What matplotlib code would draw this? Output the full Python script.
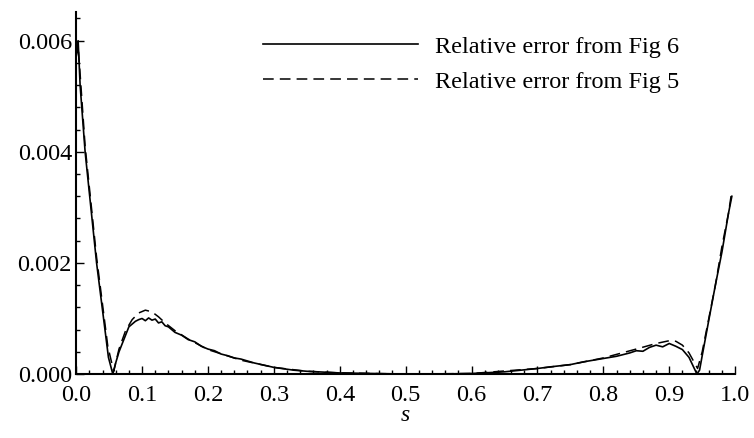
import matplotlib
matplotlib.use("Agg")
import matplotlib.pyplot as plt
from matplotlib.ticker import MultipleLocator, FormatStrFormatter

plt.rcParams["font.family"] = ["Liberation Serif", "DejaVu Serif"]

# relative error (solid = Fig 6, dashed = Fig 5)
s_fig6 = [0.0, 0.003, 0.006, 0.0136, 0.031, 0.049, 0.0556, 0.06, 0.065, 0.07,
          0.075, 0.08, 0.085, 0.09, 0.095, 0.1, 0.105, 0.11, 0.115, 0.12,
          0.125, 0.13, 0.135, 0.14, 0.15, 0.16, 0.17, 0.18, 0.19, 0.2,
          0.21, 0.22, 0.23, 0.24, 0.25, 0.27, 0.3, 0.33, 0.35, 0.4,
          0.45, 0.5, 0.55, 0.6, 0.65, 0.7, 0.72, 0.75, 0.77, 0.8,
          0.82, 0.84, 0.85, 0.86, 0.87, 0.88, 0.89, 0.9, 0.91, 0.92,
          0.93, 0.942, 0.946, 0.95, 0.96, 0.97, 0.98, 0.99, 0.995]
err_fig6 = [0.0058, 0.0060, 0.0052, 0.0040, 0.0020, 0.0003, 0.0, 0.0002, 0.0004, 0.00055,
            0.0007, 0.00085, 0.0009, 0.00095, 0.00098, 0.00100, 0.00096, 0.00101, 0.00097, 0.00099,
            0.00092, 0.00094, 0.00087, 0.00085, 0.00075, 0.00070, 0.00062, 0.00058, 0.00050, 0.00045,
            0.00042, 0.00036, 0.00033, 0.00029, 0.00027, 0.00020, 0.00012, 0.00007, 0.00005, 0.00002,
            0.00001, 0.0, 0.0, 0.00001, 0.00004, 0.0001, 0.00013, 0.00017, 0.00022, 0.00028,
            0.00032, 0.00038, 0.00042, 0.00041, 0.00048, 0.00052, 0.00049, 0.00055, 0.00050, 0.00044,
            0.00030, 0.0, 0.00007, 0.00033, 0.00097, 0.0016, 0.0022, 0.0029, 0.0032]

s_fig5 = [0.0, 0.003, 0.006, 0.0136, 0.031, 0.048, 0.057, 0.065, 0.075, 0.085,
          0.095, 0.105, 0.115, 0.125, 0.135, 0.15, 0.17, 0.2, 0.25, 0.3,
          0.35, 0.4, 0.5, 0.6, 0.7, 0.75, 0.8, 0.85, 0.88, 0.9,
          0.91, 0.92, 0.93, 0.943, 0.95, 0.96, 0.97, 0.98, 0.99, 0.995]
err_fig5 = [0.0057, 0.0059, 0.0054, 0.0041, 0.0021, 0.0005, 0.00005, 0.00045, 0.00078, 0.00098,
            0.00110, 0.00115, 0.00112, 0.00103, 0.00092, 0.00078, 0.00063, 0.00044, 0.00025, 0.00012,
            0.00005, 0.00002, 0.0, 0.00001, 0.0001, 0.00017, 0.00029, 0.00045, 0.00055, 0.0006,
            0.00059, 0.00052, 0.00038, 0.0001, 0.0004, 0.001, 0.0016, 0.0023, 0.0029, 0.0033]

labels = ["Relative error from Fig 6", "Relative error from Fig 5"]

fig = plt.figure(figsize=(7.54, 4.38), dpi=100)
ax = fig.add_axes([0.101, 0.146, 0.874, 0.827])

ax.plot(s_fig6, err_fig6, color="black", linewidth=1.2, label=labels[0])
ax.plot(s_fig5, err_fig5, color="black", linewidth=1.1, linestyle=(0, (7, 4)), label=labels[1])

ax.set_xlim(0, 1.0)
ax.set_ylim(0, 0.00652)
ax.xaxis.set_major_locator(MultipleLocator(0.1))
ax.xaxis.set_minor_locator(MultipleLocator(0.02))
ax.yaxis.set_major_locator(MultipleLocator(0.002))
ax.yaxis.set_minor_locator(MultipleLocator(0.0004))
ax.xaxis.set_major_formatter(FormatStrFormatter("%.1f"))
ax.yaxis.set_major_formatter(FormatStrFormatter("%.3f"))
ax.tick_params(which="both", direction="in", labelsize=17.5, width=1.0)
ax.tick_params(axis="x", which="major", pad=8)
ax.tick_params(axis="y", which="major", pad=3)
ax.tick_params(which="major", length=6)
ax.tick_params(which="minor", length=3)

for side in ("top", "right"):
    ax.spines[side].set_visible(False)
for side in ("left", "bottom"):
    ax.spines[side].set_linewidth(1.5)

ax.set_xlabel("s", fontsize=17, style="italic", labelpad=-1)

ax.legend(loc="upper left", bbox_to_anchor=(0.25, 0.995), frameon=False, fontsize=17.5,
          handlelength=6.4, handletextpad=0.7, labelspacing=0.55)

fig.savefig("out.png", dpi=100)
